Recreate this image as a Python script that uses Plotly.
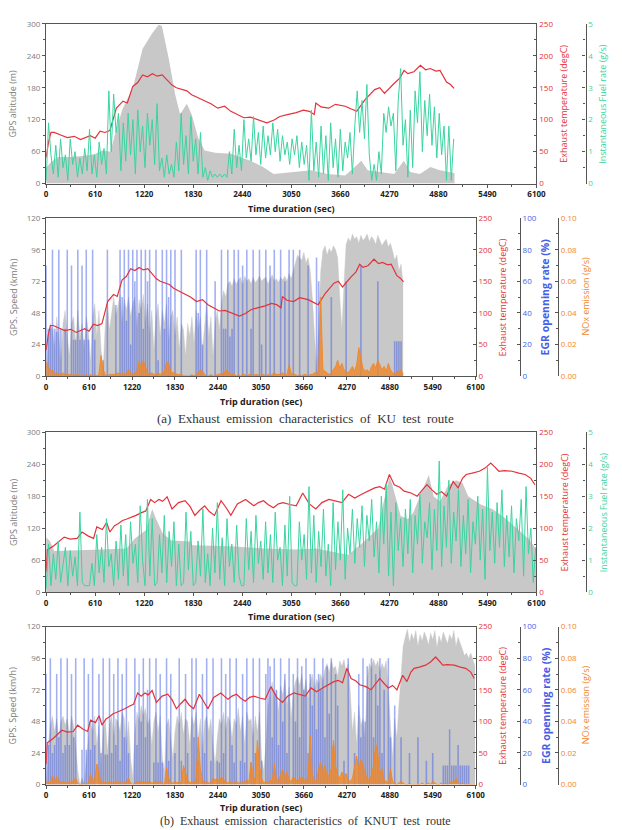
import numpy as np
import plotly.graph_objects as go

# ---------------- DATA ----------------
STEP = 30  # sampling interval (s) of the dense series

# KU test route
ku_alt_t = [0, 60, 150, 300, 450, 600, 700, 760, 800, 870,
            950, 1080, 1200, 1320, 1400, 1440, 1525, 1606, 1667, 1750,
            1810, 1891, 1972, 2100, 2300, 2540, 2700, 2830, 3110, 3300,
            3500, 3720, 3840, 3920, 4000, 4170, 4330, 4450, 4530, 4650,
            4780, 4900, 5020, 5080]
ku_alt = [30, 40, 50, 50, 52, 55, 62, 60, 60, 100,
          140, 180, 253, 282, 298, 296, 235, 167, 130, 150,
          130, 86, 62, 58, 56, 43, 31, 18, 22, 25,
          18, 15, 31, 43, 25, 22, 18, 43, 22, 18,
          31, 25, 22, 20]
ku_temp_t = [0, 30, 60, 100, 180, 264, 350, 427, 549, 610,
             671, 730, 793, 830, 874, 956, 1010, 1078, 1140, 1200,
             1260, 1322, 1380, 1444, 1500, 1566, 1620, 1688, 1750, 1810,
             1890, 1972, 2050, 2135, 2220, 2298, 2380, 2460, 2540, 2623,
             2745, 2830, 2908, 3000, 3111, 3200, 3274, 3335, 3355, 3420,
             3514, 3600, 3721, 3790, 3864, 3965, 4020, 4087, 4150, 4209,
             4331, 4400, 4453, 4500, 4575, 4656, 4720, 4778, 4850, 4900,
             4981, 5030, 5075]
ku_temp = [41, 65, 80, 80, 76, 72, 74, 69, 75, 71,
           82, 80, 83, 100, 118, 129, 126, 152, 158, 170,
           167, 172, 168, 170, 162, 154, 150, 147, 145, 139,
           134, 129, 125, 118, 121, 113, 108, 103, 104, 100,
           95, 99, 105, 108, 111, 115, 113, 108, 126, 120,
           118, 124, 121, 117, 113, 131, 138, 147, 150, 141,
           157, 165, 177, 172, 175, 185, 178, 180, 176, 177,
           159, 155, 149]
ku_fuel = [0.1, 1.9, 0.9, 0.3, 1.2, 0.2, 1.4, 0.5, 0.9, 0.1,
           1.4, 0.6, 1.0, 0.2, 0.8, 0.3, 1.1, 0.4, 1.7, 0.3,
           0.9, 0.2, 1.3, 0.6, 1.1, 0.3, 2.9, 1.0, 2.8, 1.6,
           2.2, 0.4, 1.9, 0.7, 2.2, 0.9, 2.0, 0.3, 2.3, 1.0,
           1.8, 0.5, 2.2, 1.2, 2.0, 0.6, 2.5, 0.4, 0.8, 0.2,
           0.9, 0.3, 0.6, 0.2, 1.3, 0.4, 2.2, 0.6, 1.5, 0.3,
           2.1, 0.7, 1.4, 0.3, 1.6, 0.2, 0.5, 0.1, 0.4, 0.2,
           0.3, 0.2, 0.3, 0.2, 0.3, 0.2, 1.0, 0.3, 1.7, 0.5,
           1.2, 0.4, 2.0, 0.8, 1.4, 0.7, 2.1, 0.9, 1.6, 0.6,
           1.8, 0.8, 1.5, 0.9, 1.9, 1.0, 1.7, 0.7, 1.5, 0.9,
           1.3, 0.6, 1.4, 0.9, 1.5, 0.5, 1.3, 0.6, 1.2, 0.1,
           2.3, 0.4, 1.3, 0.2, 1.8, 0.3, 1.5, 0.1, 1.9, 0.5,
           1.4, 0.2, 1.7, 0.4, 1.3, 0.8, 1.6, 0.3, 1.8, 2.9,
           1.6, 2.6, 1.4, 3.1, 0.9, 0.1, 0.6, 0.1, 1.0, 0.3,
           2.2, 1.6, 2.4, 1.8, 2.2, 0.4, 2.6, 3.6, 1.2, 2.0,
           0.2, 2.3, 0.5, 2.9, 1.9, 3.5, 1.0, 2.6, 1.5, 2.8,
           1.2, 2.4, 0.8, 2.2, 0.9, 1.8, 0.1, 1.8, 0.1, 1.4]
ku_speed = [0, 25, 40, 35, 20, 45, 30, 10, 40, 50,
            30, 15, 40, 45, 25, 50, 30, 40, 20, 45,
            35, 10, 45, 55, 30, 50, 20, 5, 40, 55,
            35, 50, 60, 45, 55, 62, 40, 58, 50, 60,
            45, 55, 60, 35, 58, 50, 62, 40, 55, 30,
            50, 20, 45, 55, 30, 50, 40, 55, 25, 45,
            50, 30, 45, 20, 40, 35, 15, 40, 30, 45,
            25, 50, 35, 45, 20, 40, 55, 30, 45, 15,
            40, 50, 35, 55, 65, 60, 70, 72, 68, 74,
            70, 73, 75, 69, 76, 72, 74, 70, 75, 71,
            73, 76, 72, 74, 75, 70, 73, 77, 72, 74,
            71, 75, 73, 76, 72, 78, 74, 80, 85, 92,
            90, 88, 94, 86, 90, 80, 60, 30, 5, 40,
            80, 95, 99, 92, 97, 94, 99, 96, 90, 60,
            36, 70, 100, 105, 102, 108, 104, 106, 101, 107,
            103, 105, 108, 102, 106, 104, 100, 107, 103, 99,
            102, 104, 98, 101, 95, 88, 92, 80, 85, 70]
ku_egr = [70, 30, 30, 80, 30, 28, 80, 30, 0, 30,
          80, 0, 70, 23, 23, 80, 23, 70, 23, 80,
          23, 0, 80, 23, 0, 0, 0, 10, 0, 80,
          0, 0, 0, 45, 0, 80, 50, 80, 35, 80,
          20, 80, 60, 80, 40, 80, 30, 80, 60, 80,
          0, 0, 80, 10, 0, 80, 30, 80, 50, 80,
          0, 80, 0, 0, 80, 0, 0, 0, 0, 0,
          0, 80, 40, 80, 20, 0, 80, 0, 0, 0,
          60, 0, 0, 80, 30, 30, 80, 25, 30, 80,
          0, 80, 0, 70, 0, 80, 0, 30, 80, 0,
          0, 80, 20, 0, 80, 0, 70, 0, 80, 0,
          0, 80, 0, 60, 0, 80, 0, 80, 0, 0,
          80, 0, 0, 0, 70, 0, 0, 0, 75, 60,
          0, 0, 0, 0, 0, 50, 0, 0, 0, 0,
          0, 0, 60, 0, 0, 0, 0, 0, 0, 70,
          0, 0, 0, 0, 0, 0, 0, 60, 0, 0,
          0, 0, 0, 0, 0, 22, 22, 22, 22, 0]
ku_nox = [0.009, 0.006, 0.003, 0.004, 0.001, 0.002, 0.001, 0.001, 0.002, 0.001,
          0.001, 0.001, 0.001, 0.000, 0.001, 0.001, 0.000, 0.001, 0.000, 0.001,
          0.000, 0.001, 0.000, 0.001, 0.000, 0.001, 0.013, 0.004, 0.001, 0.000,
          0.001, 0.001, 0.001, 0.001, 0.002, 0.001, 0.002, 0.001, 0.002, 0.004,
          0.002, 0.001, 0.002, 0.003, 0.009, 0.005, 0.010, 0.006, 0.002, 0.001,
          0.002, 0.001, 0.001, 0.002, 0.001, 0.002, 0.003, 0.009, 0.008, 0.003,
          0.002, 0.002, 0.001, 0.001, 0.001, 0.000, 0.000, 0.000, 0.000, 0.001,
          0.000, 0.001, 0.002, 0.004, 0.003, 0.001, 0.000, 0.000, 0.001, 0.000,
          0.000, 0.001, 0.001, 0.002, 0.001, 0.004, 0.003, 0.001, 0.001, 0.001,
          0.000, 0.001, 0.000, 0.001, 0.001, 0.000, 0.001, 0.001, 0.000, 0.001,
          0.001, 0.000, 0.001, 0.001, 0.000, 0.001, 0.000, 0.001, 0.002, 0.001,
          0.001, 0.001, 0.002, 0.001, 0.001, 0.007, 0.002, 0.001, 0.001, 0.000,
          0.001, 0.000, 0.001, 0.001, 0.000, 0.001, 0.001, 0.002, 0.002, 0.003,
          0.050, 0.004, 0.003, 0.002, 0.001, 0.002, 0.004, 0.006, 0.010, 0.005,
          0.008, 0.004, 0.003, 0.002, 0.004, 0.006, 0.003, 0.007, 0.018, 0.012,
          0.005, 0.003, 0.004, 0.002, 0.006, 0.008, 0.005, 0.010, 0.007, 0.004,
          0.006, 0.003, 0.008, 0.004, 0.002, 0.001, 0.003, 0.002, 0.004, 0.001]

# KNUT test route
knut_alt_t = [0, 50, 100, 400, 700, 1000, 1100, 1240, 1320, 1360,
              1450, 1560, 1800, 1820, 2300, 2700, 3100, 3350, 3760, 3950,
              4130, 4200, 4270, 4300, 4410, 4500, 4570, 4650, 4720, 4760,
              4820, 4900, 5000, 5100, 5180, 5250, 5400, 5550, 5700, 5850,
              6000, 6100]
knut_alt = [103, 95, 77, 78, 80, 82, 100, 116, 156, 140,
            110, 97, 95, 88, 86, 82, 80, 82, 70, 94,
            120, 170, 215, 205, 143, 137, 150, 180, 205, 220,
            180, 170, 200, 210, 205, 180, 165, 156, 140, 120,
            100, 80]
knut_temp_t = [0, 15, 100, 224, 300, 386, 447, 520, 590, 630,
               700, 752, 793, 850, 895, 950, 996, 1060, 1118, 1180,
               1240, 1300, 1350, 1403, 1450, 1505, 1566, 1647, 1728, 1790,
               1850, 1910, 1972, 2030, 2094, 2176, 2240, 2298, 2379, 2481,
               2530, 2583, 2640, 2705, 2760, 2827, 2890, 2949, 3030, 3111,
               3192, 3274, 3355, 3430, 3518, 3600, 3680, 3762, 3840, 3925,
               4000, 4087, 4150, 4209, 4270, 4331, 4400, 4453, 4540, 4616,
               4680, 4738, 4800, 4860, 4920, 4982, 5063, 5124, 5180, 5226,
               5300, 5389, 5460, 5531, 5580, 5633, 5700, 5796, 5880, 5958,
               6030, 6080]
knut_temp = [32, 66, 73, 86, 83, 84, 94, 88, 84, 102,
             98, 109, 94, 104, 107, 112, 114, 117, 120, 124,
             127, 145, 140, 145, 142, 149, 130, 140, 143, 134,
             120, 128, 135, 126, 120, 143, 132, 120, 138, 145,
             140, 135, 140, 143, 137, 132, 138, 140, 137, 135,
             155, 138, 130, 140, 145, 142, 140, 153, 147, 153,
             158, 163, 165, 161, 184, 168, 164, 158, 155, 150,
             160, 168, 160, 153, 157, 150, 173, 163, 178, 184,
             186, 189, 194, 202, 196, 189, 190, 189, 186, 184,
             178, 168]
knut_fuel = [0.1, 1.5, 0.2, 1.2, 0.4, 1.6, 0.3, 0.9, 1.4, 0.2,
             1.3, 0.5, 1.1, 0.2, 2.5, 0.3, 0.2, 0.2, 0.2, 0.9,
             0.2, 1.8, 0.6, 1.4, 0.3, 2.3, 0.8, 1.2, 0.2, 1.6,
             0.4, 2.1, 0.5, 1.8, 0.2, 2.2, 0.9, 1.5, 0.3, 2.7,
             1.0, 0.2, 2.9, 0.5, 2.3, 0.2, 0.3, 1.8, 0.6, 2.4,
             0.3, 1.9, 0.8, 2.2, 0.2, 1.5, 0.2, 0.3, 2.5, 0.7,
             1.9, 0.2, 0.3, 1.6, 0.5, 2.6, 0.3, 1.2, 0.2, 2.0,
             0.6, 2.8, 0.4, 1.7, 0.2, 2.3, 0.8, 1.5, 0.3, 2.1,
             0.5, 0.2, 0.2, 2.3, 0.7, 1.9, 0.3, 2.4, 0.9, 1.6,
             0.4, 2.2, 0.6, 1.8, 0.3, 2.5, 1.0, 1.4, 0.2, 2.1,
             0.5, 3.0, 0.3, 0.2, 0.2, 2.2, 1.0, 1.8, 0.4, 3.3,
             0.6, 2.4, 0.3, 1.9, 0.8, 2.6, 0.5, 1.5, 0.2, 2.8,
             0.7, 2.2, 1.0, 3.2, 0.4, 2.0, 1.2, 2.6, 0.9, 2.3,
             1.4, 2.7, 0.8, 2.4, 1.6, 2.9, 1.1, 2.2, 0.6, 3.0,
             1.5, 3.4, 0.5, 2.5, 0.2, 2.8, 1.3, 2.3, 0.8, 2.6,
             1.2, 2.9, 0.6, 2.4, 1.5, 3.1, 0.9, 2.2, 1.7, 2.8,
             0.7, 2.6, 1.3, 4.1, 0.8, 2.7, 1.4, 3.5, 0.9, 2.5,
             1.6, 3.2, 0.8, 2.4, 1.2, 2.9, 0.6, 2.2, 1.5, 3.0,
             1.0, 2.6, 0.4, 3.9, 1.3, 2.5, 0.9, 2.8, 1.4, 3.2,
             0.8, 2.4, 1.1, 2.7, 0.6, 2.3, 1.6, 2.9, 0.5, 3.3,
             1.2, 2.0, 0.3, 1.4]
knut_speed = [0, 30, 45, 52, 40, 50, 35, 48, 52, 45,
              50, 38, 52, 45, 30, 10, 0, 5, 0, 20,
              35, 48, 40, 52, 30, 45, 15, 40, 50, 25,
              45, 52, 35, 50, 48, 40, 55, 50, 30, 48,
              20, 5, 40, 55, 48, 60, 52, 58, 45, 50,
              30, 48, 55, 40, 52, 20, 10, 45, 50, 35,
              20, 40, 52, 45, 55, 38, 50, 48, 30, 52,
              45, 55, 35, 50, 25, 48, 52, 40, 50, 30,
              15, 35, 50, 45, 55, 40, 52, 48, 35, 50,
              45, 58, 40, 52, 30, 55, 48, 50, 35, 52,
              40, 55, 20, 10, 30, 60, 70, 78, 65, 72,
              55, 75, 68, 80, 60, 74, 50, 70, 78, 82,
              75, 84, 70, 80, 65, 78, 84, 72, 80, 76,
              84, 78, 88, 92, 85, 94, 88, 90, 82, 94,
              90, 95, 86, 92, 70, 40, 55, 30, 60, 45,
              50, 35, 80, 92, 88, 95, 90, 94, 86, 92,
              88, 94, 70, 40, 20, 50, 35, 60, 80, 105,
              112, 118, 108, 115, 110, 117, 105, 114, 109, 116,
              112, 106, 115, 110, 117, 104, 113, 108, 116, 111,
              107, 114, 110, 117, 105, 112, 108, 103, 98, 100,
              96, 100, 95, 90]
knut_egr = [70, 25, 80, 20, 25, 70, 30, 80, 20, 25,
            80, 25, 70, 30, 80, 0, 0, 22, 80, 22,
            70, 22, 80, 25, 0, 70, 20, 80, 19, 19,
            80, 20, 70, 25, 80, 15, 70, 30, 80, 20,
            0, 0, 80, 25, 70, 40, 80, 30, 60, 80,
            0, 14, 80, 14, 70, 14, 0, 80, 15, 70,
            0, 20, 0, 80, 15, 0, 70, 20, 0, 80,
            30, 80, 15, 0, 70, 20, 80, 0, 15, 80,
            0, 15, 14, 80, 20, 70, 0, 80, 25, 14,
            80, 0, 15, 70, 14, 80, 0, 14, 80, 20,
            0, 80, 15, 0, 70, 80, 75, 30, 80, 60,
            25, 80, 40, 70, 20, 80, 0, 70, 40, 80,
            30, 75, 60, 80, 20, 70, 50, 80, 35, 70,
            60, 80, 30, 75, 45, 80, 25, 70, 50, 0,
            0, 15, 0, 80, 0, 0, 20, 0, 70, 30,
            80, 40, 75, 60, 80, 30, 70, 50, 80, 20,
            60, 0, 80, 30, 0, 50, 0, 0, 30, 0,
            0, 0, 20, 0, 0, 0, 30, 0, 0, 0,
            15, 0, 0, 20, 0, 0, 0, 0, 12, 12,
            12, 35, 12, 12, 12, 25, 12, 12, 12, 12,
            12, 0, 0, 0]
knut_nox = [0.001, 0.002, 0.001, 0.006, 0.002, 0.005, 0.003, 0.001, 0.002, 0.001,
            0.001, 0.002, 0.001, 0.003, 0.004, 0.001, 0.000, 0.000, 0.001, 0.000,
            0.001, 0.007, 0.002, 0.004, 0.013, 0.006, 0.001, 0.002, 0.001, 0.001,
            0.002, 0.001, 0.001, 0.002, 0.001, 0.002, 0.001, 0.001, 0.002, 0.004,
            0.001, 0.000, 0.001, 0.002, 0.001, 0.002, 0.001, 0.002, 0.001, 0.002,
            0.001, 0.001, 0.002, 0.001, 0.002, 0.001, 0.000, 0.011, 0.004, 0.001,
            0.001, 0.002, 0.001, 0.002, 0.001, 0.012, 0.008, 0.003, 0.001, 0.002,
            0.001, 0.004, 0.030, 0.010, 0.003, 0.001, 0.002, 0.001, 0.001, 0.004,
            0.003, 0.004, 0.002, 0.005, 0.003, 0.002, 0.001, 0.002, 0.001, 0.001,
            0.002, 0.001, 0.001, 0.002, 0.001, 0.003, 0.002, 0.014, 0.006, 0.002,
            0.028, 0.012, 0.004, 0.001, 0.002, 0.001, 0.003, 0.002, 0.013, 0.004,
            0.002, 0.006, 0.010, 0.004, 0.008, 0.003, 0.002, 0.005, 0.003, 0.002,
            0.004, 0.005, 0.003, 0.002, 0.005, 0.031, 0.006, 0.003, 0.002, 0.010,
            0.014, 0.008, 0.012, 0.005, 0.006, 0.010, 0.028, 0.012, 0.006, 0.004,
            0.008, 0.005, 0.007, 0.003, 0.002, 0.004, 0.012, 0.018, 0.010, 0.016,
            0.012, 0.007, 0.004, 0.003, 0.006, 0.012, 0.026, 0.020, 0.008, 0.010,
            0.003, 0.002, 0.001, 0.010, 0.002, 0.001, 0.000, 0.001, 0.002, 0.001,
            0.000, 0.000, 0.001, 0.000, 0.000, 0.000, 0.000, 0.000, 0.001, 0.000,
            0.000, 0.001, 0.000, 0.002, 0.001, 0.000, 0.000, 0.001, 0.000, 0.001,
            0.000, 0.001, 0.002, 0.001, 0.004, 0.001, 0.000, 0.001, 0.000, 0.000,
            0.000, 0.000, 0.000, 0.000]

x_ticks = [0, 610, 1220, 1830, 2440, 3050, 3660, 4270, 4880, 5490, 6100]

captions = ["(a)\u00a0 Exhaust\u00a0 emission\u00a0 characteristics\u00a0 of\u00a0 KU\u00a0 test\u00a0 route",
            "(b)\u00a0 Exhaust\u00a0 emission\u00a0 characteristics\u00a0 of\u00a0 KNUT\u00a0 test\u00a0 route"]

# ---------------- STYLE ----------------
W, H = 622, 830
FONT = "Open Sans"
GREY_FILL = "rgb(200,200,200)"
RED = "rgb(228,50,58)"
GREEN = "rgb(58,212,160)"
BLUE = "rgb(70,95,230)"
EGR_FILL = "rgba(70,95,230,0.5)"
ORANGE = "rgb(240,135,40)"
LABEL_GREY = "rgb(125,125,125)"
AXLINE = "#555555"


def fx(p):
    return p / W


def fy(p):
    return 1 - p / H


def grid(vals):
    return np.arange(len(vals)) * STEP


fig = go.Figure()

# --- panel 1 : KU altitude / temperature / fuel
fig.add_trace(go.Scatter(x=ku_alt_t, y=ku_alt, mode="lines", line=dict(width=0, color=GREY_FILL),
                         fill="tozeroy", fillcolor=GREY_FILL, xaxis="x", yaxis="y"))
fig.add_trace(go.Scatter(x=ku_temp_t, y=ku_temp, mode="lines", line=dict(width=1.2, color=RED),
                         xaxis="x", yaxis="y2"))
fig.add_trace(go.Scatter(x=grid(ku_fuel), y=ku_fuel, mode="lines", line=dict(width=1.0, color=GREEN),
                         xaxis="x", yaxis="y3"))

# --- panel 2 : KU speed / EGR / temperature / NOx
fig.add_trace(go.Scatter(x=grid(ku_speed), y=ku_speed, mode="lines", line=dict(width=0.4, color=GREY_FILL),
                         fill="tozeroy", fillcolor=GREY_FILL, xaxis="x2", yaxis="y4"))
fig.add_trace(go.Bar(x=grid(ku_egr), y=ku_egr, width=22, marker=dict(color=EGR_FILL, line=dict(width=0)),
                     xaxis="x2", yaxis="y5"))
fig.add_trace(go.Scatter(x=ku_temp_t, y=ku_temp, mode="lines", line=dict(width=1.2, color=RED),
                         xaxis="x2", yaxis="y6"))
fig.add_trace(go.Scatter(x=grid(ku_nox), y=ku_nox, mode="lines", line=dict(width=0.9, color=ORANGE),
                         fill="tozeroy", fillcolor="rgba(240,135,40,0.8)", xaxis="x2", yaxis="y7"))

# --- panel 3 : KNUT altitude / temperature / fuel
fig.add_trace(go.Scatter(x=knut_alt_t, y=knut_alt, mode="lines", line=dict(width=0, color=GREY_FILL),
                         fill="tozeroy", fillcolor=GREY_FILL, xaxis="x3", yaxis="y8"))
fig.add_trace(go.Scatter(x=knut_temp_t, y=knut_temp, mode="lines", line=dict(width=1.2, color=RED),
                         xaxis="x3", yaxis="y9"))
fig.add_trace(go.Scatter(x=grid(knut_fuel), y=knut_fuel, mode="lines", line=dict(width=1.0, color=GREEN),
                         xaxis="x3", yaxis="y10"))

# --- panel 4 : KNUT speed / EGR / temperature / NOx
fig.add_trace(go.Scatter(x=grid(knut_speed), y=knut_speed, mode="lines", line=dict(width=0.4, color=GREY_FILL),
                         fill="tozeroy", fillcolor=GREY_FILL, xaxis="x4", yaxis="y11"))
fig.add_trace(go.Bar(x=grid(knut_egr), y=knut_egr, width=22, marker=dict(color=EGR_FILL, line=dict(width=0)),
                     xaxis="x4", yaxis="y12"))
fig.add_trace(go.Scatter(x=knut_temp_t, y=knut_temp, mode="lines", line=dict(width=1.2, color=RED),
                         xaxis="x4", yaxis="y13"))
fig.add_trace(go.Scatter(x=grid(knut_nox), y=knut_nox, mode="lines", line=dict(width=0.9, color=ORANGE),
                         fill="tozeroy", fillcolor="rgba(240,135,40,0.8)", xaxis="x4", yaxis="y14"))


def xaxis(dom_px, anchor):
    return dict(domain=[fx(dom_px[0]), fx(dom_px[1])], anchor=anchor, range=[0, 6100],
                tickmode="array", tickvals=x_ticks, ticktext=[str(v) for v in x_ticks],
                ticks="outside", ticklen=3, tickwidth=1, tickcolor=AXLINE,
                minor=dict(ticks="outside", ticklen=2, tickvals=[305 + 610 * i for i in range(10)], tickcolor=AXLINE),
                showline=True, linecolor=AXLINE, linewidth=1.3, mirror=True,
                showgrid=False, zeroline=False,
                tickfont=dict(family=FONT, size=8, color="#222222", weight="bold"))


def yleft(dom_px, anchor, rng, dtick):
    return dict(domain=[fy(dom_px[1]), fy(dom_px[0])], anchor=anchor, range=rng, dtick=dtick, tick0=0,
                ticks="outside", ticklen=3, tickcolor=AXLINE,
                minor=dict(ticks="outside", ticklen=2, dtick=dtick / 2, tickcolor=AXLINE),
                showline=True, linecolor=AXLINE, linewidth=1.3, mirror=True,
                showgrid=False, zeroline=False,
                tickfont=dict(family=FONT, size=8, color=LABEL_GREY))


def yright(overlay, rng, dtick, color, anchor=None, pos=None, fmt=None):
    d = dict(overlaying=overlay, side="right", range=rng, dtick=dtick, tick0=0,
             ticks="inside", ticklen=3, tickcolor=AXLINE,
             minor=dict(ticks="inside", ticklen=2, dtick=dtick / 2, tickcolor=AXLINE),
             showline=True, linecolor=AXLINE, linewidth=1.3,
             showgrid=False, zeroline=False,
             tickfont=dict(family=FONT, size=8, color=color))
    if pos is None:
        d["anchor"] = anchor
    else:
        d["anchor"] = "free"
        d["position"] = fx(pos)
    if fmt:
        d["tickformat"] = fmt
    return d


P1 = (18, 180)
P2 = (215, 375)
P3 = (432, 594)
P4 = (629, 789)

layout = dict(
    width=W, height=H, margin=dict(l=0, r=0, t=0, b=0),
    paper_bgcolor="white", plot_bgcolor="rgba(0,0,0,0)", showlegend=False,
    xaxis=xaxis((45, 545), "y"),
    yaxis=yleft(P1, "x", [0, 300], 60),
    yaxis2=yright("y", [0, 250], 50, RED, anchor="x"),
    yaxis3=yright("y", [0, 5], 1, GREEN, pos=595),
    xaxis2=xaxis((45, 483), "y4"),
    yaxis4=yleft(P2, "x2", [0, 120], 24),
    yaxis5=yright("y4", [0, 100], 20, BLUE, pos=528),
    yaxis6=yright("y4", [0, 250], 50, RED, anchor="x2"),
    yaxis7=yright("y4", [0, 0.10], 0.02, ORANGE, pos=567, fmt=".2f"),
    xaxis3=xaxis((45, 545), "y8"),
    yaxis8=yleft(P3, "x3", [0, 300], 60),
    yaxis9=yright("y8", [0, 250], 50, RED, anchor="x3"),
    yaxis10=yright("y8", [0, 5], 1, GREEN, pos=595),
    xaxis4=xaxis((45, 483), "y11"),
    yaxis11=yleft(P4, "x4", [0, 120], 24),
    yaxis12=yright("y11", [0, 100], 20, BLUE, pos=528),
    yaxis13=yright("y11", [0, 250], 50, RED, anchor="x4"),
    yaxis14=yright("y11", [0, 0.10], 0.02, ORANGE, pos=567, fmt=".2f"),
)
fig.update_layout(**layout)

anns = []


def ann(text, x, y, color, size, angle=0, bold=False, family=FONT):
    anns.append(dict(text=text, x=fx(x), y=fy(y), xref="paper", yref="paper",
                     showarrow=False, textangle=angle, xanchor="center", yanchor="middle",
                     font=dict(family=family, size=size, color=color, weight="bold" if bold else "normal")))


for off in (0, 414):
    # upper panel (altitude)
    ann("GPS altitude (m)", 11, 99 + off, LABEL_GREY, 9, -90)
    ann("Exhaust temperature (degC)", 573, 99 + off, RED, 9, -90)
    ann("Instantaneous Fuel rate (g/s)", 613, 99 + off, GREEN, 9, -90)
    ann("Time duration (sec)", 295, 205 + off, "#222222", 9, bold=True)
    # lower panel (speed)
    ann("GPS. Speed (km/h)", 11, 295 + off, LABEL_GREY, 9, -90)
    ann("Exhaust temperature (degC)", 510, 295 + off, RED, 9, -90)
    ann("EGR openning rate (%)", 554, 295 + off, BLUE, 10.5, -90, bold=True)
    ann("NOx emission (g/s)", 595, 294 + off, ORANGE, 9, -90)
    ann("Trip duration (sec)", 264, (401 if off == 0 else 812), "#222222", 9, bold=True)

ann(captions[0], 309, 418, "#333333", 13, family="Liberation Serif")
ann(captions[1], 309, 826, "#333333", 12, family="Liberation Serif")

fig.update_layout(annotations=anns)
fig.write_html("out.html")
